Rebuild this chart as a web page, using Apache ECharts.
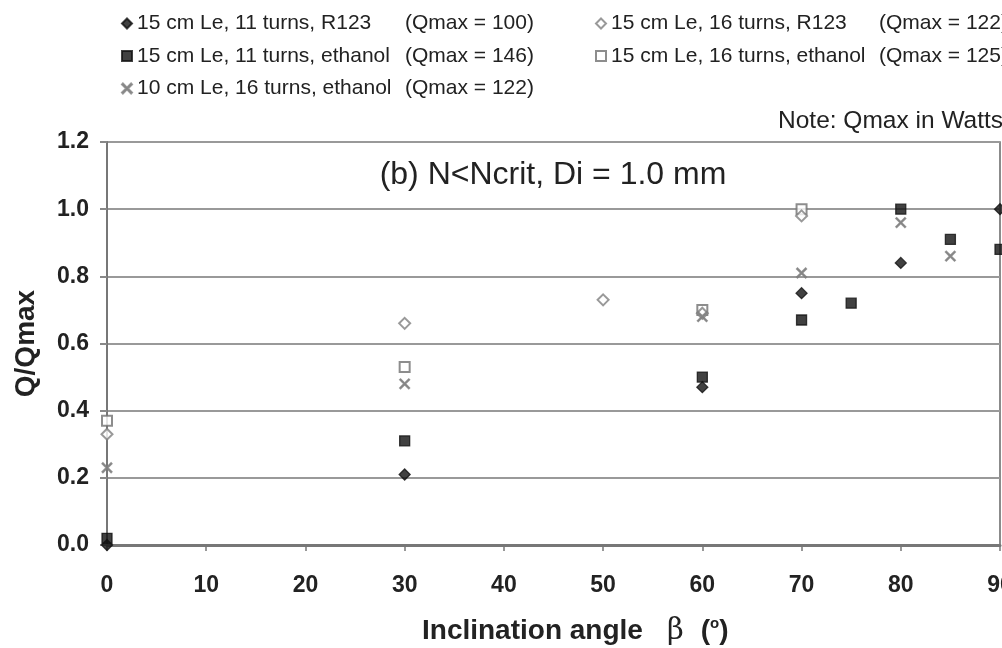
<!DOCTYPE html>
<html>
<head>
<meta charset="utf-8">
<script src="https://cdn.jsdelivr.net/npm/echarts@6/dist/echarts.min.js"></script>
<style>
  html, body { margin: 0; padding: 0; background: #fff; }
  #chart { width: 1002px; height: 648px; }
</style>
</head>
<body>
<div id="chart"></div>
<script>
// Q/Qmax versus inclination angle for five heat-pipe configurations
const xTicks = [0, 10, 20, 30, 40, 50, 60, 70, 80, 90];
const yTicks = [0.0, 0.2, 0.4, 0.6, 0.8, 1.0, 1.2];

const seriesNames = [
  '15 cm Le, 11 turns, R123',
  '15 cm Le, 11 turns, ethanol',
  '10 cm Le, 16 turns, ethanol',
  '15 cm Le, 16 turns, R123',
  '15 cm Le, 16 turns, ethanol'
];
const qmaxLabels = ['(Qmax = 100)', '(Qmax = 146)', '(Qmax = 122)', '(Qmax = 122)', '(Qmax = 125)'];

// 15 cm Le, 11 turns, R123
const angleR123_11 = [0, 30, 60, 70, 80, 90];
const qR123_11 = [0.00, 0.21, 0.47, 0.75, 0.84, 1.00];
// 15 cm Le, 11 turns, ethanol
const angleEth_11 = [0, 30, 60, 70, 75, 80, 85, 90];
const qEth_11 = [0.02, 0.31, 0.50, 0.67, 0.72, 1.00, 0.91, 0.88];
// 10 cm Le, 16 turns, ethanol
const angleEth10_16 = [0, 30, 60, 70, 80, 85];
const qEth10_16 = [0.23, 0.48, 0.68, 0.81, 0.96, 0.86];
// 15 cm Le, 16 turns, R123
const angleR123_16 = [0, 30, 50, 60, 70];
const qR123_16 = [0.33, 0.66, 0.73, 0.69, 0.98];
// 15 cm Le, 16 turns, ethanol
const angleEth_16 = [0, 30, 60, 70];
const qEth_16 = [0.37, 0.53, 0.70, 1.00];

const pairs = (xs, ys) => xs.map((x, i) => [x, ys[i]]);

const crossPath = 'path://M0,0.9L0.9,0L5,4.1L9.1,0L10,0.9L5.9,5L10,9.1L9.1,10L5,5.9L0.9,10L0,9.1L4.1,5Z';

const markers = [
  { symbol: 'diamond', size: 11, color: '#111' },
  { symbol: 'rect', size: 10, color: '#111' },
  { symbol: crossPath, size: 10, color: '#808080' },
  { symbol: 'emptyDiamond', size: 11, color: '#808080' },
  { symbol: 'emptyRect', size: 10, color: '#707070' }
];
const dataSets = [
  pairs(angleR123_11, qR123_11),
  pairs(angleEth_11, qEth_11),
  pairs(angleEth10_16, qEth10_16),
  pairs(angleR123_16, qR123_16),
  pairs(angleEth_16, qEth_16)
];

const FONT = '"Liberation Sans", Arial, sans-serif';

const series = seriesNames.map((name, i) => ({
  name: name,
  type: 'scatter',
  symbol: markers[i].symbol,
  symbolSize: markers[i].size,
  itemStyle: { color: markers[i].color, borderColor: markers[i].color, borderWidth: 1.3 },
  data: dataSets[i],
  z: 10 - i
}));

const legendText = {
  fontFamily: FONT,
  fontSize: 21,
  color: '#222',
  rich: {
    d: { fontFamily: FONT, fontSize: 21, color: '#222', width: 268 },
    q: { fontFamily: FONT, fontSize: 21, color: '#222' }
  }
};
const legendFormatter = name => {
  const i = seriesNames.indexOf(name);
  return '{d|' + name + '}{q|' + qmaxLabels[i] + '}';
};
const legendItem = i => ({ name: seriesNames[i], icon: markers[i].symbol, itemStyle: { color: markers[i].color, borderColor: markers[i].color } });

const chart = echarts.init(document.getElementById('chart'), null, { renderer: 'canvas' });
chart.setOption({
  animation: false,
  backgroundColor: '#fff',
  grid: {
    left: 107, right: 2, top: 142, bottom: 103,
    outerBoundsMode: 'none', containLabel: false,
    show: true, borderColor: '#666', borderWidth: 1.5, backgroundColor: 'transparent'
  },
  legend: [
    {
      data: [0, 1, 2].map(legendItem),
      orient: 'vertical', left: 116, top: 8, itemGap: 11.5,
      itemWidth: 10, itemHeight: 10,
      textStyle: legendText, formatter: legendFormatter,
      selectedMode: false
    },
    {
      data: [3, 4].map(legendItem),
      orient: 'vertical', left: 590, top: 8, itemGap: 11.5,
      itemWidth: 10, itemHeight: 10,
      textStyle: legendText, formatter: legendFormatter,
      selectedMode: false
    }
  ],
  xAxis: {
    type: 'value', min: xTicks[0], max: xTicks[xTicks.length - 1], interval: 10,
    axisLine: { lineStyle: { color: '#777', width: 3 } },
    axisTick: { show: true, length: 6, lineStyle: { color: '#777', width: 1.5 } },
    splitLine: { show: false },
    axisLabel: { fontFamily: FONT, fontSize: 23, fontWeight: 'bold', color: '#222', margin: 29 }
  },
  yAxis: {
    type: 'value', min: yTicks[0], max: yTicks[yTicks.length - 1], interval: 0.2,
    axisLine: { show: true, lineStyle: { color: '#777', width: 2 } },
    axisTick: { show: true, length: 7, lineStyle: { color: '#888', width: 2 } },
    splitLine: { show: true, lineStyle: { color: '#999', width: 2 } },
    axisLabel: {
      fontFamily: FONT, fontSize: 23, fontWeight: 'bold', color: '#222', margin: 18,
      formatter: v => v.toFixed(1)
    },
    name: 'Q/Qmax',
    nameLocation: 'middle',
    nameGap: 67,
    nameTextStyle: { fontFamily: FONT, fontSize: 28, fontWeight: 'bold', color: '#222' }
  },
  graphic: [
    {
      type: 'text', x: 553, y: 175,
      style: {
        text: '(b) N<Ncrit, Di = 1.0 mm', font: '32px ' + FONT, fill: '#222',
        align: 'center', verticalAlign: 'middle'
      }
    },
    {
      type: 'text', x: 778, y: 121,
      style: {
        text: 'Note: Qmax in Watts', font: '24.5px ' + FONT, fill: '#222',
        align: 'left', verticalAlign: 'middle'
      }
    },
    {
      type: 'text', x: 422, y: 631,
      style: {
        text: '{a|Inclination angle}{b|β}{d|(}{c|o}{a|)}',
        align: 'left', verticalAlign: 'middle',
        rich: {
          a: { fontFamily: FONT, fontSize: 28, fontWeight: 'bold', fill: '#222' },
          b: { fontFamily: '"DejaVu Serif", "Liberation Serif", serif', fontSize: 29, fill: '#222', padding: [0, 0, 0, 24] },
          d: { fontFamily: FONT, fontSize: 28, fontWeight: 'bold', fill: '#222', padding: [0, 0, 0, 17] },
          c: { fontFamily: FONT, fontSize: 15, fontWeight: 'bold', fill: '#222', padding: [0, 0, 14, 0] }
        }
      }
    }
  ],
  series: series
});
</script>
</body>
</html>
